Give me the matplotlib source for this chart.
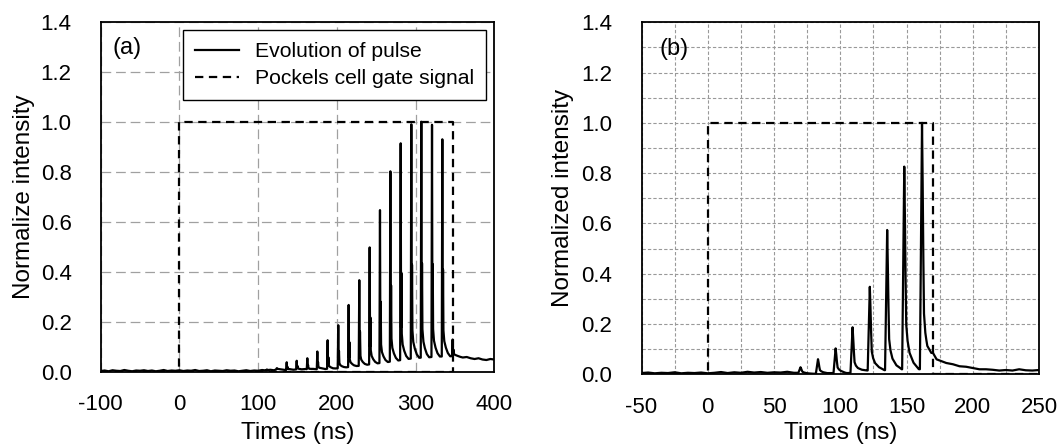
import numpy as np
import matplotlib
matplotlib.use("Agg")
import matplotlib.pyplot as plt
from matplotlib.ticker import MultipleLocator, FormatStrFormatter

plt.rcParams["font.family"] = ["Liberation Sans", "DejaVu Sans"]
plt.rcParams["axes.unicode_minus"] = False
plt.rcParams["lines.scale_dashes"] = False

# ---------------- panel (a) data ----------------
base_a_t = list(range(-100, 401, 5))
base_a_v = [0.004, 0.006, 0.003, 0.007, 0.005, 0.004, 0.008, 0.005, 0.003, 0.006,
            0.005, 0.007, 0.004, 0.006, 0.003, 0.005, 0.008, 0.004, 0.006, 0.005,
            0.007, 0.004, 0.006, 0.005, 0.008, 0.004, 0.005, 0.007, 0.003, 0.006,
            0.005, 0.004, 0.007, 0.005, 0.006, 0.003, 0.005, 0.007, 0.004, 0.006,
            0.005, 0.008, 0.006, 0.009, 0.007, 0.012, 0.010,
            0.008, 0.010, 0.009, 0.011, 0.010, 0.012, 0.010, 0.012, 0.011, 0.013,
            0.012, 0.014, 0.013, 0.015, 0.016, 0.018, 0.020, 0.022, 0.024, 0.025,
            0.027, 0.030, 0.032, 0.034, 0.036, 0.038, 0.040, 0.043, 0.045, 0.047,
            0.050, 0.052, 0.054, 0.056, 0.057, 0.058, 0.058, 0.060, 0.060, 0.062,
            0.062, 0.063, 0.063,
            0.065, 0.062, 0.058, 0.060, 0.055, 0.052, 0.055, 0.050, 0.048, 0.052,
            0.050]
peak_a_t = [111.0, 123.6, 136.3, 149.0, 162.5, 175.2, 188.3, 201.8, 215.0, 228.5,
            241.7, 254.8, 268.0, 281.1, 294.6, 307.3, 320.9, 334.0, 347.1]
peak_a_h = [0.010, 0.015, 0.039, 0.045, 0.055, 0.082, 0.127, 0.187, 0.268, 0.367,
            0.498, 0.647, 0.802, 0.914, 0.990, 1.000, 0.988, 0.930, 0.130]
# pulse shape: offset (ns) and fraction of peak height
shape_a_dt = [-0.7, 0.0, 0.5, 0.9, 1.4, 2.5, 4.5, 7.0, 10.0]
shape_a_f = [0.0, 1.0, 0.15, 0.40, 0.12, 0.07, 0.04, 0.015, 0.0]
gate_a_t = [-100, 0, 0, 347, 347, 0]
gate_a_v = [0, 0, 1, 1, 0, 0]

# ---------------- panel (b) data ----------------
base_b_t = list(range(-50, 251, 5))
base_b_v = [0.005, 0.007, 0.004, 0.006, 0.005, 0.008, 0.004, 0.006, 0.005, 0.007,
            0.004, 0.006, 0.009, 0.005, 0.008, 0.006, 0.010, 0.007, 0.009, 0.006,
            0.008, 0.007, 0.010, 0.006,
            0.006, 0.003, 0.002, 0.004, 0.003, 0.005, 0.006, 0.003, 0.008, 0.012,
            0.015, 0.018, 0.018, 0.016, 0.018, 0.020, 0.020, 0.022, 0.020,
            0.030, 0.065, 0.055, 0.045, 0.040, 0.032, 0.030, 0.025, 0.020, 0.020,
            0.018, 0.015, 0.017, 0.015, 0.020, 0.016, 0.015, 0.017]
peak_b_t = [70.0, 83.2, 96.5, 109.3, 122.3, 135.4, 148.3, 161.7]
peak_b_h = [0.028, 0.060, 0.103, 0.187, 0.348, 0.574, 0.826, 1.000]
shape_b_dt = [-1.6, -0.6, 0.0, 0.5, 1.0, 1.5, 2.5, 4.0, 7.0, 11.0]
shape_b_f = [0.0, 0.6, 1.0, 0.75, 0.45, 0.22, 0.14, 0.08, 0.03, 0.0]
gate_b_t = [-50, 0, 0, 170, 170, 250]
gate_b_v = [0, 0, 1, 1, 0, 0]


def build_trace(bt, bv, pt, ph, sdt, sf):
    bt = np.asarray(bt, float)
    bv = np.asarray(bv, float)
    sdt = np.asarray(sdt, float)
    sf = np.asarray(sf, float)
    ts = [bt]
    for t in pt:
        ts.append(t + sdt)
    t_all = np.unique(np.concatenate(ts))
    y = np.interp(t_all, bt, bv)
    for t, h in zip(pt, ph):
        amp = h - np.interp(t, bt, bv)
        y += np.interp(t_all, t + sdt, sf * amp, left=0, right=0)
    return t_all, y


fig = plt.figure(figsize=(10.6, 4.48), dpi=100)
ax_a = fig.add_axes([0.095, 0.1696, 0.3713, 0.782])
ax_b = fig.add_axes([0.6052, 0.1645, 0.375, 0.7857])

GATE_LS = (0, (6, 4))
PULSE_LW = 1.6

# ---- (a) ----
ta, ya = build_trace(base_a_t, base_a_v, peak_a_t, peak_a_h, shape_a_dt, shape_a_f)
l_gate, = ax_a.plot(gate_a_t, gate_a_v, color="black", lw=1.6, ls=GATE_LS,
                    label="Pockels cell gate signal", zorder=3)
l_pulse, = ax_a.plot(ta, ya, color="black", lw=PULSE_LW, label="Evolution of pulse",
                     zorder=4)
ax_a.set_xlim(-100, 400)
ax_a.xaxis.set_major_locator(MultipleLocator(100))
ax_a.grid(True, which="major", color="#a0a0a0", lw=0.9, ls=(0, (7, 3.5)))
ax_a.set_ylabel("Normalize intensity", fontsize=17.5, labelpad=4)
ax_a.set_xlabel("Times (ns)", fontsize=17.5, labelpad=5)
ax_a.text(0.031, 0.925, "(a)", transform=ax_a.transAxes, fontsize=17,
          va="center", ha="left")
leg = ax_a.legend([l_pulse, l_gate], [l_pulse.get_label(), l_gate.get_label()],
                  loc="upper right", bbox_to_anchor=(0.978, 0.975),
                  fontsize=15.2, fancybox=False, framealpha=1, edgecolor="black",
                  handlelength=2.1, handletextpad=0.75, labelspacing=0.4,
                  borderpad=0.55, borderaxespad=0)
leg.get_frame().set_linewidth(1.0)

# ---- (b) ----
tb, yb = build_trace(base_b_t, base_b_v, peak_b_t, peak_b_h, shape_b_dt, shape_b_f)
ax_b.plot(gate_b_t, gate_b_v, color="black", lw=1.6, ls=GATE_LS, zorder=3)
ax_b.plot(tb, yb, color="black", lw=PULSE_LW, zorder=4)
ax_b.set_xlim(-50, 250)
ax_b.xaxis.set_major_locator(MultipleLocator(50))
ax_b.xaxis.set_minor_locator(MultipleLocator(25))
ax_b.yaxis.set_minor_locator(MultipleLocator(0.1))
ax_b.grid(True, which="both", color="#999999", lw=0.8, ls=(0, (2.4, 1.5)))
ax_b.set_ylabel("Normalized intensity", fontsize=17.5, labelpad=5)
ax_b.set_xlabel("Times (ns)", fontsize=17.5, labelpad=3.5)
ax_b.text(0.046, 0.925, "(b)", transform=ax_b.transAxes, fontsize=17,
          va="center", ha="left")

for ax in (ax_a, ax_b):
    ax.set_ylim(0, 1.4)
    ax.yaxis.set_major_locator(MultipleLocator(0.2))
    ax.yaxis.set_major_formatter(FormatStrFormatter("%.1f"))
    ax.tick_params(axis="both", which="both", length=0, labelsize=16)
    ax.tick_params(axis="y", pad=21)
    ax.tick_params(axis="x", pad=16)
    ax.set_axisbelow(True)
    for s in ax.spines.values():
        s.set_linewidth(1.3)
        s.set_color("black")
        s.set_zorder(5)

fig.savefig("out.png", dpi=100)
